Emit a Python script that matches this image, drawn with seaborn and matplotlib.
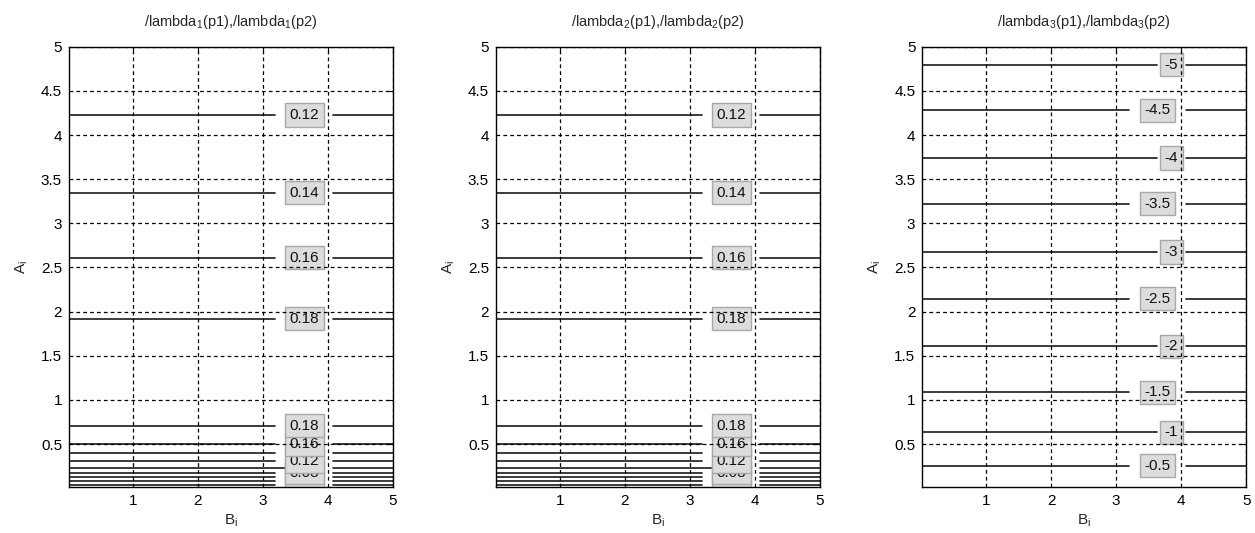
import pandas as pd
import matplotlib
matplotlib.use("Agg")
import matplotlib.pyplot as plt
import seaborn as sns

# contour levels: A position of each horizontal line
levels_1 = [4.227, 3.345, 2.612, 1.919, 0.708, 0.496, 0.398, 0.303, 0.228, 0.175, 0.126, 0.081, 0.039]
values_1 = [0.12, 0.14, 0.16, 0.18, 0.18, 0.16, 0.14, 0.12, 0.10, 0.08, 0.06, 0.04, 0.02]
# which lines carry a visible label
shown_1 = [1, 1, 1, 1, 1, 1, 0, 1, 0, 1, 0, 1, 0]

# second panel is the same surface
levels_2 = list(levels_1)
values_2 = list(values_1)
shown_2 = list(shown_1)

levels_3 = [4.795, 4.28, 3.74, 3.22, 2.675, 2.146, 1.608, 1.086, 0.632, 0.254]
values_3 = [-5, -4.5, -4, -3.5, -3, -2.5, -2, -1.5, -1, -0.5]
shown_3 = [1] * len(levels_3)

titles = [r"/lambda$_1$(p1),/lambda$_1$(p2)",
          r"/lambda$_2$(p1),/lambda$_2$(p2)",
          r"/lambda$_3$(p1),/lambda$_3$(p2)"]
ticks = [1, 2, 3, 4, 5]
yticks = [0.5, 1, 1.5, 2, 2.5, 3, 3.5, 4, 4.5, 5]

sns.set_style("white")
plt.rcParams['font.family'] = ['Liberation Sans', 'DejaVu Sans']
plt.rcParams['mathtext.default'] = 'regular'

fig = plt.figure(figsize=(12.55, 5.33), dpi=100)
lefts = [69 / 1255, 496 / 1255, 922.3 / 1255]
panels = [(levels_1, values_1, shown_1), (levels_2, values_2, shown_2), (levels_3, values_3, shown_3)]

GAP_END = 4.08
X0, X1 = 0.02, 5.0

for i, (levels, values, shown) in enumerate(panels):
    ax = fig.add_axes([lefts[i], 0.0856, 324 / 1255, 0.8268])
    rows = []
    labels = []
    for k, (lv, val, s) in enumerate(zip(levels, values, shown)):
        txt = f"{val:g}"
        gap = 0.215 * len(txt) + 0.03
        g0 = GAP_END - gap
        rows += [(X0, lv, 2 * k), (g0, lv, 2 * k), (GAP_END, lv, 2 * k + 1), (X1, lv, 2 * k + 1)]
        if s:
            labels.append(((g0 + GAP_END) / 2, lv, txt))
    df = pd.DataFrame(rows, columns=["B", "A", "seg"])
    sns.lineplot(data=df, x="B", y="A", units="seg", estimator=None, sort=False,
                 color="#1a1a1a", linewidth=1.2, legend=False, ax=ax, zorder=2)
    # lower lines first, so higher labels sit on top
    for x, y, txt in sorted(labels, key=lambda t: t[1]):
        ax.text(x, y, txt, ha="center", va="center", fontsize=11, color="#111111",
                zorder=2.2, clip_on=True,
                bbox=dict(boxstyle="square,pad=0.3", fc="#dcdcdc", ec="#a8a8a8", lw=1))
    ax.set_xlim(X0, X1)
    ax.set_ylim(0.01, 5)
    ax.set_xticks(ticks)
    ax.set_yticks(yticks)
    ax.set_yticklabels([f"{t:g}" for t in yticks])
    ax.set_axisbelow(False)
    ax.grid(True, color="black", linestyle=(0, (3, 2.5)), linewidth=0.9)
    ax.tick_params(direction="in", length=4, top=True, right=True, labelsize=11, colors="black", pad=5)
    for sp in ax.spines.values():
        sp.set_color("black")
        sp.set_linewidth(1.0)
    ax.set_title(titles[i], fontsize=10.5, pad=15)
    ax.set_xlabel("B$_i$", fontsize=11, labelpad=3)
    ax.set_ylabel("A$_i$", fontsize=11, labelpad=8)

fig.savefig("out.png", dpi=100)
